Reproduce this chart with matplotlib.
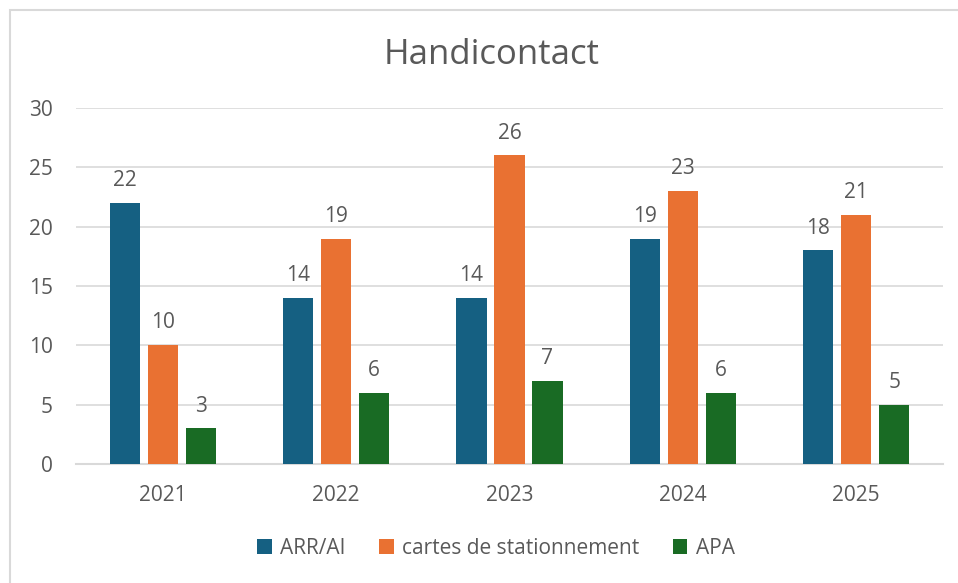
import numpy as np
import matplotlib.pyplot as plt
from matplotlib.patches import Rectangle

years = ["2021", "2022", "2023", "2024", "2025"]
series_names = ["ARR/AI", "cartes de stationnement", "APA"]
arr_ai = [22, 14, 14, 19, 18]
cartes = [10, 19, 26, 23, 21]
apa = [3, 6, 7, 6, 5]
yticks = [0, 5, 10, 15, 20, 25, 30]

color_list = ["#156082", "#E97132", "#196B24"]
text_color = "#595959"

plt.rcParams['font.family'] = ['Open Sans', 'DejaVu Sans']

fig = plt.figure(figsize=(9.58, 5.83), dpi=100)
ax = fig.add_axes([76 / 958, 1 - 464 / 583, (943 - 76) / 958, (464 - 108) / 583])

# chart border (only top and left show in the crop)
fig.patches.append(Rectangle((10 / 958, -0.1), 1.2, 1 - 10 / 583 + 0.1,
                             transform=fig.transFigure, fill=False,
                             edgecolor="#D9D9D9", linewidth=1.5))

x = np.arange(len(years))
width = 0.175
pitch = 0.219
for it, (name, vals) in enumerate(zip(series_names, [arr_ai, cartes, apa])):
    pos = x + (it - 1) * pitch
    bars = ax.bar(pos, vals, width, color=color_list[it], label=name, zorder=3)
    for b, v in zip(bars, vals):
        ax.text(b.get_x() + b.get_width() / 2, v + 1.0, str(v),
                ha="center", va="bottom", fontsize=15, color=text_color)

ax.set_xlim(-0.5, len(years) - 0.5)
ax.set_ylim(0, 30)
ax.set_yticks(yticks)
ax.set_xticks(x)
ax.set_xticklabels(years)
ax.grid(axis="y", color="#D9D9D9", linewidth=1.2, zorder=0)
for s in ["top", "right", "left"]:
    ax.spines[s].set_visible(False)
ax.spines["bottom"].set_color("#D9D9D9")
ax.spines["bottom"].set_linewidth(1.5)
ax.tick_params(axis="both", length=0, labelsize=15, colors=text_color)
ax.tick_params(axis="y", pad=16.5)
ax.tick_params(axis="x", pad=15)

fig.text(492 / 958, 1 - 64 / 583, "Handicontact", ha="center", va="baseline",
         fontsize=25, color=text_color)

fig.legend(loc="center", bbox_to_anchor=(496 / 958, 1 - 548 / 583), ncol=3,
           frameon=False, fontsize=15, labelcolor=text_color,
           handlelength=0.7, handleheight=0.7, handletextpad=0.4, columnspacing=1.6)

plt.savefig("out.png", dpi=100)
plt.close("all")
